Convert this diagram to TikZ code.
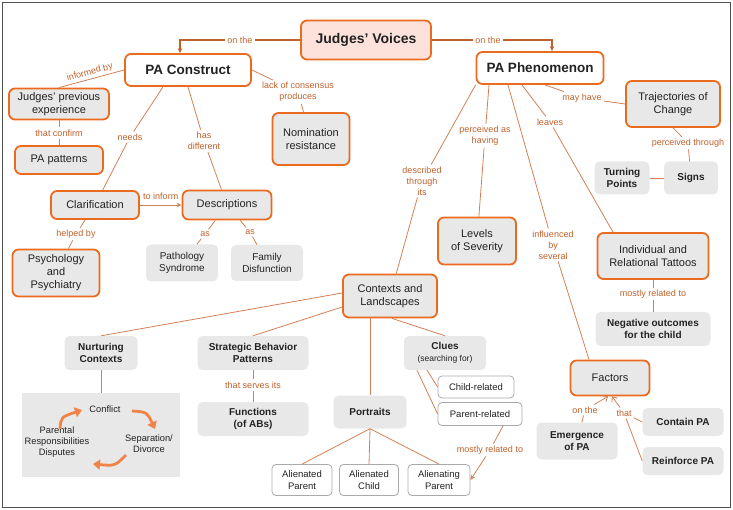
\documentclass[tikz,border=0pt]{standalone}
\usepackage{fontspec}
\setmainfont{Liberation Sans}
\usetikzlibrary{arrows.meta,calc}
\definecolor{orangeB}{RGB}{234,106,30}
\definecolor{lineC}{RGB}{212,128,84}
\definecolor{lineD}{RGB}{190,98,45}
\definecolor{labelC}{RGB}{192,96,42}
\definecolor{grayF}{RGB}{232,232,232}
\definecolor{pinkF}{RGB}{253,226,220}
\definecolor{textC}{RGB}{34,34,34}
\definecolor{wbC}{RGB}{170,170,170}
\definecolor{cycC}{RGB}{240,132,72}
\definecolor{frameC}{RGB}{80,80,80}
\begin{document}
\begin{tikzpicture}[x=1pt,y=-1pt,
  every node/.style={text=textC, align=center, inner sep=0pt},
  obox/.style={draw=orangeB, line width=1.8pt, rounded corners=6pt, fill=grayF, font=\fontsize{11}{13}\selectfont},
  pbox/.style={fill=grayF, rounded corners=5pt, font=\bfseries\fontsize{10}{12.5}\selectfont},
  pboxn/.style={fill=grayF, rounded corners=5pt, font=\fontsize{10}{12}\selectfont},
  wbox/.style={draw=wbC, line width=0.8pt, rounded corners=4pt, fill=white, font=\fontsize{9.5}{12}\selectfont},
  lbl/.style={text=labelC, font=\fontsize{9}{11}\selectfont, inner sep=2pt},
  conn/.style={draw=lineC, line width=0.8pt},
  mainconn/.style={draw=lineD, line width=1.5pt},
  tip/.style={-{Stealth[length=5pt,width=4.5pt]}},
  otip/.style={-{Straight Barb[length=4pt,width=7pt]}},
  cycarrow/.style={draw=cycC, line width=2.8pt, -{Triangle[length=7pt,width=10pt]}}
]
\path[use as bounding box] (0,0) rectangle (733,510);
\draw[frameC, line width=1.2pt] (2.5,2.5) rectangle (730.5,507.5);

% ---- main nodes
\node[obox, fill=pinkF, font=\bfseries\fontsize{14}{16}\selectfont, minimum width=130, minimum height=39] (jv) at (366,40) {Judges’ Voices};
\node[obox, fill=white, font=\bfseries\fontsize{13.5}{16}\selectfont, minimum width=126, minimum height=32] (pac) at (188,70) {PA Construct};
\node[obox, fill=white, font=\bfseries\fontsize{13.5}{16}\selectfont, minimum width=127, minimum height=32] (ppn) at (540,68) {PA Phenomenon};

% ---- left branch
\node[obox, minimum width=100, minimum height=31] (jpe) at (59,104) {Judges’ previous\\experience};
\node[obox, minimum width=88, minimum height=28] (pat) at (59,160) {PA patterns};
\node[obox, minimum width=77, minimum height=52] (nom) at (311,139) {Nomination\\resistance};
\node[obox, minimum width=88, minimum height=28] (clar) at (95,205) {Clarification};
\node[obox, minimum width=89, minimum height=29] (desc) at (227,205) {Descriptions};
\node[obox, minimum width=87, minimum height=47] (psy) at (56,273) {Psychology\\and\\Psychiatry};
\node[pboxn, minimum width=72, minimum height=37] (path) at (182,263) {Pathology\\Syndrome};
\node[pboxn, minimum width=72, minimum height=36] (fam) at (267,263) {Family\\Disfunction};

% ---- right branch
\node[obox, minimum width=94, minimum height=43] (ctx) at (390,296) {Contexts and\\Landscapes};
\node[obox, minimum width=78, minimum height=47] (lev) at (477,241) {Levels\\of Severity};
\node[obox, minimum width=94, minimum height=46] (traj) at (673,104) {Trajectories of\\Change};
\node[pbox, minimum width=55, minimum height=33] (turn) at (622,178) {Turning\\Points};
\node[pbox, minimum width=54, minimum height=33] (signs) at (691,178) {Signs};
\node[obox, minimum width=111, minimum height=46] (tat) at (653,256) {Individual and\\Relational Tattoos};
\node[pbox, minimum width=115, minimum height=34] (neg) at (653,329) {Negative outcomes\\for the child};
\node[obox, minimum width=79, minimum height=35] (fac) at (610,378) {Factors};
\node[pbox, minimum width=81, minimum height=37] (emg) at (577,441) {Emergence\\of PA};
\node[pbox, minimum width=81, minimum height=28] (con) at (683,422) {Contain PA};
\node[pbox, minimum width=81, minimum height=28] (rei) at (683,461) {Reinforce PA};

% ---- contexts children
\node[pbox, minimum width=73, minimum height=34] (nur) at (101,353) {Nurturing\\Contexts};
\node[pbox, minimum width=111, minimum height=34] (sbp) at (253,353) {Strategic Behavior\\Patterns};
\node[pbox, minimum width=111, minimum height=34] (fun) at (253,419) {Functions\\(of ABs)};
\node[pbox, minimum width=73, minimum height=33] (por) at (370,412) {Portraits};
\node[pbox, minimum width=82, minimum height=34] (clu) at (445,353) {Clues\\{\mdseries\fontsize{8.5}{10}\selectfont (searching for)}};
\node[wbox, minimum width=76, minimum height=22] (chr) at (476,387) {Child-related};
\node[wbox, minimum width=84, minimum height=23] (par) at (480,414) {Parent-related};
\node[wbox, minimum width=60, minimum height=31] (ap) at (302,480) {Alienated\\Parent};
\node[wbox, minimum width=59, minimum height=31] (ac) at (369,480) {Alienated\\Child};
\node[wbox, minimum width=62, minimum height=31] (ang) at (439,480) {Alienating\\Parent};

% ---- cycle
\node[fill=grayF, minimum width=158, minimum height=84] (cyc) at (101,435) {};
\node[font=\fontsize{9.3}{11.3}\selectfont] (conf) at (105,409) {Conflict};
\node[font=\fontsize{9.3}{11.3}\selectfont] (sep) at (149,444) {Separation/\\Divorce};
\node[font=\fontsize{9.3}{11.3}\selectfont] (prd) at (57,442) {Parental\\Responsibilities\\Disputes};
\coordinate (c1a) at (132,411); \coordinate (c1b) at (155,429);
\coordinate (c2a) at (126,455); \coordinate (c2b) at (93,464);
\coordinate (c3a) at (60,429);  \coordinate (c3b) at (82,410);
\draw[cycarrow] (c1a) .. controls (147,412) .. (c1b);
\draw[cycarrow] (c2a) .. controls (115,466) .. (c2b);
\draw[cycarrow] (c3a) .. controls (61,417) .. (c3b);

% ---- labels
\node[lbl] (on1) at (240,40) {on the};
\node[lbl] (on2) at (488,40) {on the};
\node[lbl] (tc) at (59,133) {that confirm};
\node[lbl] (lack) at (298,92) {lack of consensus\\produces};
\node[lbl] (needs) at (130,137) {needs};
\node[lbl] (hd) at (204,141) {has\\different};
\node[lbl] (hb) at (76,234) {helped by};
\node[lbl] (as1) at (205,234) {as};
\node[lbl] (as2) at (250,232) {as};
\node[lbl] (dti) at (422,181) {described\\through\\its};
\node[lbl] (pah) at (485,136) {perceived as\\having};
\node[lbl] (lv) at (550,122) {leaves};
\node[lbl] (ibs) at (553,245) {influenced\\by\\several};
\node[lbl] (mh) at (582,98) {may have};
\node[lbl] (pt) at (688,143) {perceived through};
\node[lbl] (mrt) at (653,294) {mostly related to};
\node[lbl] (on3) at (585,410) {on the};
\node[lbl] (that) at (624,413) {that};
\node[lbl] (tsi) at (253,385) {that serves its};
\node[lbl] (mrt2) at (490,450) {mostly related to};

% ---- connectors
\draw[mainconn] (jv) -- (on1);
\draw[mainconn, tip] (on1) -| ([xshift=-8pt]pac.north);
\draw[mainconn] (jv) -- (on2);
\draw[mainconn, tip] (on2) -| ([xshift=12pt]ppn.north);

\draw[conn] (pac.west) -- (jpe.north) node[lbl, sloped, midway, above=0pt] {informed by};
\draw[conn] (jpe) -- (tc) -- (pat);
\draw[conn] (pac.east) -- (lack) -- (nom);
\draw[conn] ([xshift=-25pt]pac.south) -- (needs) -- (clar);
\draw[conn] (pac.south) -- (hd) -- (desc);
\draw[conn, tip] (clar) -- (desc) node[lbl, midway, above=3pt] {to inform};
\draw[conn] (clar) -- (hb) -- (psy);
\draw[conn] (desc) -- (as1) -- (path);
\draw[conn] (desc) -- (as2) -- (fam);

\draw[conn] (ppn.south west) -- (dti) -- (ctx);
\draw[conn] ([xshift=-51pt]ppn.south) -- (pah) -- (lev);
\draw[conn] ([xshift=-18pt]ppn.south) -- (lv) -- ([xshift=-40pt]tat.north);
\draw[conn] ([xshift=-32pt]ppn.south) -- (ibs) -- ([xshift=-21pt]fac.north);
\draw[conn] ([xshift=5pt]ppn.south) -- (mh) -- (traj.west);
\draw[conn] (traj.south) -- (pt) -- (signs);
\draw[conn] (turn) -- (signs);
\draw[conn] (tat) -- (mrt) -- (neg);
\draw[conn] (emg) -- (on3);
\draw[conn, otip] (on3) -- ([xshift=-2pt]fac.south);
\draw[conn] (con.west) -- (that);
\draw[conn] (rei.west) -- (that);
\draw[conn, otip] (that) -- ([xshift=2pt]fac.south);

\draw[conn] ([yshift=3pt]ctx.west) -- (nur.north);
\draw[conn] ([yshift=-11pt]ctx.west) -- (sbp.north);
\draw[conn] (por.north |- ctx.south) -- (por.north);
\draw[conn] ([xshift=2pt]ctx.south) -- (clu.north);
\draw[conn] (sbp) -- (tsi) -- (fun);
\draw[conn] (nur.south) -- (cyc.north);
\draw[conn] ([xshift=-18pt]clu.south) -- (chr.west);
\draw[conn] ([xshift=-28pt]clu.south) -- (par.west);
\draw[conn] (por.south) -- (ap.north);
\draw[conn] (por.south) -- (ac.north);
\draw[conn] (por.south) -- (ang.north);
\draw[conn] ([xshift=23pt]par.south) -- (mrt2);
\draw[conn, tip] (mrt2) -- (ang.east);
\end{tikzpicture}
\end{document}
